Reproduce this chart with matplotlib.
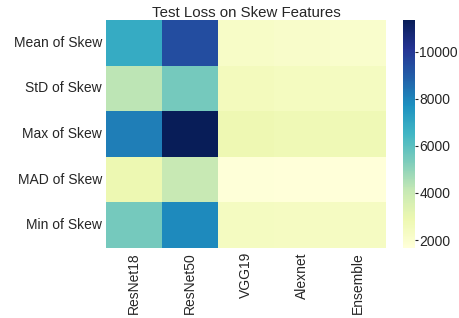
import numpy as np
import pandas as pd
import seaborn as sns
import matplotlib
matplotlib.use("Agg")
import matplotlib.pyplot as plt

models = ["ResNet18", "ResNet50", "VGG19", "Alexnet", "Ensemble"]
features = ["Mean of Skew", "StD of Skew", "Max of Skew", "MAD of Skew", "Min of Skew"]

mean_skew = [6850, 9400, 2200, 2150, 2050]
std_skew = [4250, 5500, 2500, 2450, 2400]
max_skew = [8150, 11350, 2800, 2750, 2750]
mad_skew = [2850, 4050, 1720, 1680, 1660]
min_skew = [5500, 7900, 2400, 2350, 2350]

df = pd.DataFrame([mean_skew, std_skew, max_skew, mad_skew, min_skew],
                  index=features, columns=models)

sns.set_style("white")
plt.rcParams['font.family'] = ['Liberation Sans', 'DejaVu Sans']
plt.rcParams['text.color'] = '#262626'
plt.rcParams['xtick.color'] = '#262626'
plt.rcParams['ytick.color'] = '#262626'

W, H = 460, 318
fig = plt.figure(figsize=(W / 100, H / 100), dpi=100)
ax = fig.add_axes([106 / W, 1 - 248 / H, 280 / W, 228 / H])
cax = fig.add_axes([403 / W, 1 - 248 / H, 12 / W, 228 / H])

sns.heatmap(df, cmap="YlGnBu", ax=ax, cbar_ax=cax)

ax.set_title("Test Loss on Skew Features", fontsize=10.8, pad=2)
ax.tick_params(axis='both', length=0, labelsize=10, pad=3)
ax.set_xticklabels(models, rotation=90)
ax.set_yticklabels(features, rotation=0)
cax.tick_params(labelsize=10, length=2, width=0.8, pad=1)
cax.set_yticks([2000, 4000, 6000, 8000, 10000])
for s in cax.spines.values():
    s.set_visible(False)

fig.savefig("out.png", dpi=100)
